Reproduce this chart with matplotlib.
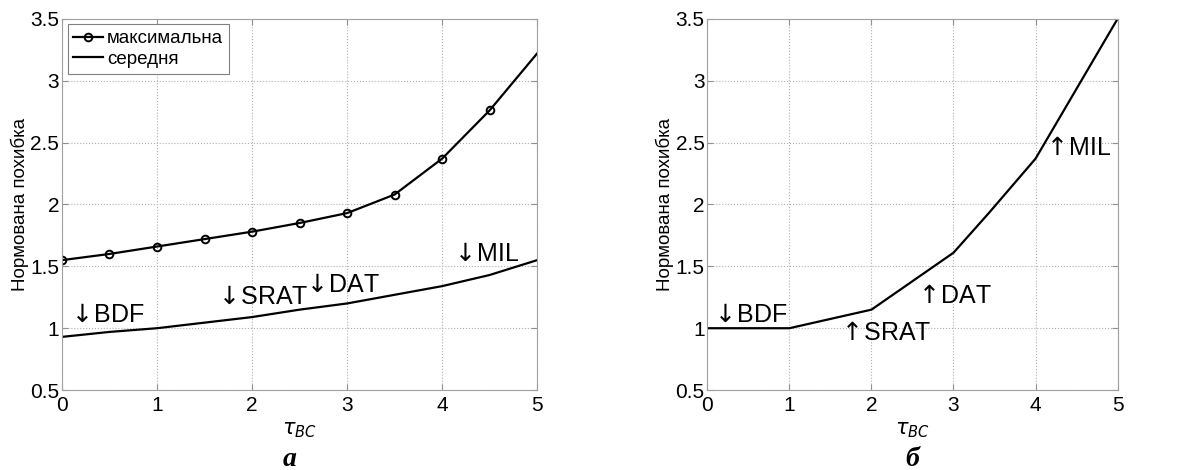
import matplotlib.pyplot as plt
import numpy as np

plt.rcParams['font.family'] = ['Liberation Sans', 'DejaVu Sans']
plt.rcParams['mathtext.fontset'] = 'dejavusans'

# ліва панель (а)
tau = [0, 0.5, 1, 1.5, 2, 2.5, 3, 3.5, 4, 4.5, 5]
max_err = [1.55, 1.60, 1.66, 1.72, 1.78, 1.85, 1.93, 2.08, 2.37, 2.76, 3.22]
mean_err = [0.93, 0.97, 1.00, 1.045, 1.09, 1.15, 1.20, 1.27, 1.34, 1.43, 1.55]

# права панель (б)
tau_b = [0, 1, 2, 3, 3.43, 4, 5]
err_b = [1.0, 1.0, 1.15, 1.61, 1.93, 2.37, 3.5]

# підписи методів
dn = r'$\!\downarrow\!$'
up = r'$\!\uparrow\!$'
labels_a = [dn + 'BDF', dn + 'SRAT', dn + 'DAT', dn + 'MIL']
lx_a = [0.10, 1.64, 2.57, 4.13]
ly_a = [1.05, 1.20, 1.29, 1.54]
labels_b = [dn + 'BDF', up + 'SRAT', up + 'DAT', up + 'MIL']
lx_b = [0.08, 1.63, 2.57, 4.13]
ly_b = [1.05, 0.905, 1.20, 2.40]

fig = plt.figure(figsize=(12.03, 4.70), dpi=100)
ax1 = fig.add_axes([0.0515, 0.170, 0.395, 0.790])
ax2 = fig.add_axes([0.588, 0.170, 0.341, 0.790])

ax1.plot(tau, max_err, color='black', lw=1.6, marker='o', ms=5.5, mfc='none',
         mew=1.4, markevery=list(range(10)), label='максимальна')
ax1.plot(tau, mean_err, color='black', lw=1.6, label='середня')
ax2.plot(tau_b, err_b, color='black', lw=1.6)

for ax, labs, lx, ly in [(ax1, labels_a, lx_a, ly_a), (ax2, labels_b, lx_b, ly_b)]:
    ax.set_xlim(0, 5)
    ax.set_ylim(0.5, 3.5)
    ax.set_xticks([0, 1, 2, 3, 4, 5])
    ax.set_yticks([0.5, 1, 1.5, 2, 2.5, 3, 3.5])
    ax.set_yticklabels(['0.5', '1', '1.5', '2', '2.5', '3', '3.5'])
    ax.grid(True, ls=':', color='#b0b0b0', lw=0.8)
    ax.tick_params(direction='in', top=True, right=True, labelsize=15,
                   color='#909090', length=4, pad=2)
    ax.tick_params(axis='x', pad=4)
    for s in ax.spines.values():
        s.set_color('#a0a0a0')
    ax.set_ylabel('Нормована похибка', fontsize=13.5, labelpad=1)
    ax.set_xlabel(r'$\tau_{BC}$', fontsize=15, labelpad=4)
    for t, x, y in zip(labs, lx, ly):
        ax.text(x, y, t, fontsize=18, ha='left', va='baseline')

leg = ax1.legend(loc='upper left', fontsize=13.5, handlelength=1.6,
                 fancybox=False, framealpha=1, edgecolor='#808080',
                 borderaxespad=0.3, handletextpad=0.2, labelspacing=0.2,
                 borderpad=0.3)
leg.get_frame().set_linewidth(0.8)

fig.text(0.241, 0.008, 'а', fontsize=20, fontweight='bold', fontstyle='italic',
         family='Liberation Serif', ha='center')
fig.text(0.758, 0.008, 'б', fontsize=20, fontweight='bold', fontstyle='italic',
         family='Liberation Serif', ha='center')

fig.savefig('out.png', dpi=100)
